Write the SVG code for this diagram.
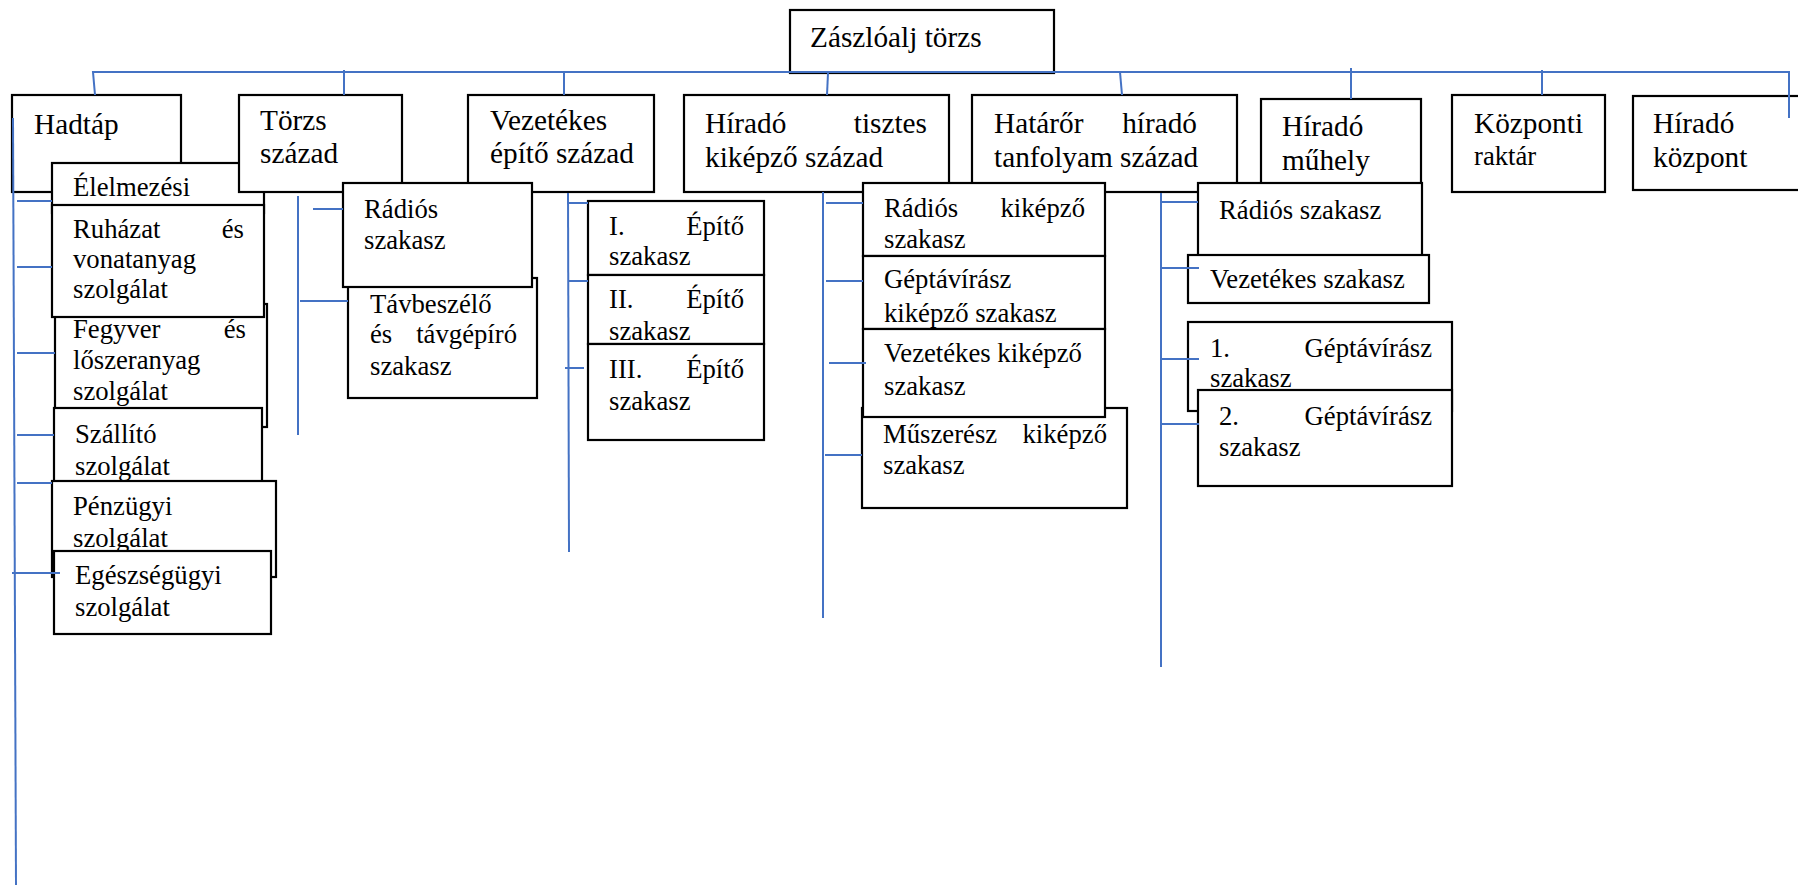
<svg xmlns="http://www.w3.org/2000/svg" width="1798" height="887" viewBox="0 0 1798 887">
<style>
.b{fill:#fff;stroke:#000;stroke-width:2.2}
.c{stroke:#4472C4;stroke-width:2;fill:none}
.s{font-size:26.7px}
.e{text-anchor:end}
</style>
<rect width="1798" height="887" fill="#fff"/>
<g font-family="'Liberation Serif', 'DejaVu Serif', serif" font-size="29.3" fill="#000">
<g id="n-zaszloalj"><rect class="b" x="790" y="10" width="264" height="63"/><text x="810" y="47">Zászlóalj törzs</text></g>

<g id="n-hadtap"><rect class="b" x="12" y="95" width="169" height="97"/><text x="34" y="134">Hadtáp</text></g>

<g id="n-elelmezesi"><rect class="b" x="52" y="163" width="212" height="50"/><text class="s" x="73" y="196">Élelmezési</text></g>

<g id="n-torzs"><rect class="b" x="239" y="95" width="163" height="97"/><text x="260" y="130">Törzs</text><text x="260" y="163">század</text></g>
<g id="n-vezetekes"><rect class="b" x="468" y="95" width="186" height="97"/><text x="490" y="130">Vezetékes</text><text x="490" y="163">építő század</text></g>
<g id="n-hiradotisztes"><rect class="b" x="684" y="95" width="265" height="97"/><text x="705" y="133">Híradó</text><text class="e" x="927" y="133">tisztes</text><text x="705" y="167">kiképző század</text></g>
<g id="n-hataror"><rect class="b" x="972" y="95" width="265" height="97"/><text x="994" y="133">Határőr</text><text class="e" x="1197" y="133">híradó</text><text x="994" y="167">tanfolyam század</text></g>
<g id="n-muhely"><rect class="b" x="1261" y="99" width="160" height="92"/><text x="1282" y="136">Híradó</text><text x="1282" y="170">műhely</text></g>
<g id="n-kozponti"><rect class="b" x="1452" y="95" width="153" height="97"/><text x="1474" y="133">Központi</text><text class="s" x="1474" y="165">raktár</text></g>
<g id="n-hiradokozpont"><rect class="b" x="1633" y="96" width="180" height="94"/><text x="1653" y="133">Híradó</text><text x="1653" y="167">központ</text></g>

<g id="n-fegyver"><rect class="b" x="55" y="304" width="212" height="123"/><text class="s" x="73" y="338">Fegyver</text><text class="s e" x="246" y="338">és</text><text class="s" x="73" y="369">lőszeranyag</text><text class="s" x="73" y="400">szolgálat</text></g>
<g id="n-ruhazat"><rect class="b" x="52" y="205" width="212" height="112"/><text class="s" x="73" y="238">Ruházat</text><text class="s e" x="244" y="238">és</text><text class="s" x="73" y="268">vonatanyag</text><text class="s" x="73" y="298">szolgálat</text></g>
<g id="n-szallito"><rect class="b" x="54" y="408" width="208" height="90"/><text class="s" x="75" y="443">Szállító</text><text class="s" x="75" y="475">szolgálat</text></g>
<g id="n-penzugyi"><rect class="b" x="52" y="481" width="224" height="96"/><text class="s" x="73" y="515">Pénzügyi</text><text class="s" x="73" y="547">szolgálat</text></g>
<g id="n-egeszsegugyi"><rect class="b" x="54" y="551" width="217" height="83"/><text class="s" x="75" y="584">Egészségügyi</text><text class="s" x="75" y="616">szolgálat</text></g>

<g id="n-tavbeszelo"><rect class="b" x="348" y="278" width="189" height="120"/><text class="s" x="370" y="313">Távbeszélő</text><text class="s" x="370" y="343">és</text><text class="s e" x="517" y="343">távgépíró</text><text class="s" x="370" y="375">szakasz</text></g>
<g id="n-radios1"><rect class="b" x="343" y="183" width="189" height="104"/><text class="s" x="364" y="218">Rádiós</text><text class="s" x="364" y="249">szakasz</text></g>

<g id="n-epito1"><rect class="b" x="588" y="201" width="176" height="74"/><text class="s" x="609" y="235">I.</text><text class="s e" x="744" y="235">Építő</text><text class="s" x="609" y="265">szakasz</text></g>
<g id="n-epito2"><rect class="b" x="588" y="275" width="176" height="69"/><text class="s" x="609" y="308">II.</text><text class="s e" x="744" y="308">Építő</text><text class="s" x="609" y="340">szakasz</text></g>
<g id="n-epito3"><rect class="b" x="588" y="344" width="176" height="96"/><text class="s" x="609" y="378">III.</text><text class="s e" x="744" y="378">Építő</text><text class="s" x="609" y="410">szakasz</text></g>

<g id="n-muszeresz"><rect class="b" x="862" y="408" width="265" height="100"/><text class="s" x="883" y="443">Műszerész</text><text class="s e" x="1107" y="443">kiképző</text><text class="s" x="883" y="474">szakasz</text></g>
<g id="n-radioskik"><rect class="b" x="863" y="183" width="242" height="73"/><text class="s" x="884" y="217">Rádiós</text><text class="s e" x="1085" y="217">kiképző</text><text class="s" x="884" y="248">szakasz</text></g>
<g id="n-geptavkik"><rect class="b" x="863" y="256" width="242" height="73"/><text class="s" x="884" y="288">Géptávírász</text><text class="s" x="884" y="322">kiképző szakasz</text></g>
<g id="n-vezkik"><rect class="b" x="863" y="329" width="242" height="88"/><text class="s" x="884" y="362">Vezetékes kiképző</text><text class="s" x="884" y="395">szakasz</text></g>

<g id="n-radios2"><rect class="b" x="1198" y="183" width="224" height="80"/><text class="s" x="1219" y="219">Rádiós szakasz</text></g>
<g id="n-vezsz"><rect class="b" x="1188" y="255" width="241" height="48"/><text class="s" x="1210" y="288">Vezetékes szakasz</text></g>
<g id="n-gept1"><rect class="b" x="1188" y="322" width="264" height="89"/><text class="s" x="1210" y="357">1.</text><text class="s e" x="1432" y="357">Géptávírász</text><text class="s" x="1210" y="387">szakasz</text></g>
<g id="n-gept2"><rect class="b" x="1198" y="390" width="254" height="96"/><text class="s" x="1219" y="425">2.</text><text class="s e" x="1432" y="425">Géptávírász</text><text class="s" x="1219" y="456">szakasz</text></g>
</g>
<g id="connectors" class="c">
<polyline points="95,95 93,72 1789,72 1789,118"/>
<line x1="344" y1="70" x2="344" y2="95"/>
<line x1="564" y1="72" x2="564" y2="95"/>
<line x1="828" y1="73" x2="827" y2="95"/>
<line x1="1120" y1="72" x2="1122" y2="95"/>
<line x1="1351" y1="68" x2="1351" y2="99"/>
<line x1="1542" y1="70" x2="1542" y2="95"/>
<line x1="13" y1="118" x2="16" y2="885"/>
<line x1="17" y1="201" x2="52" y2="201"/>
<line x1="17" y1="267" x2="52" y2="267"/>
<line x1="17" y1="353" x2="55" y2="353"/>
<line x1="17" y1="435" x2="54" y2="435"/>
<line x1="17" y1="483" x2="52" y2="483"/>
<line x1="12" y1="573" x2="60" y2="573"/>
<line x1="298" y1="196" x2="298" y2="435"/>
<line x1="313" y1="209" x2="343" y2="209"/>
<line x1="300" y1="301" x2="348" y2="301"/>
<line x1="568" y1="193" x2="569" y2="552"/>
<line x1="568" y1="203" x2="588" y2="203"/>
<line x1="568" y1="281" x2="588" y2="281"/>
<line x1="565" y1="368" x2="584" y2="368"/>
<line x1="823" y1="192" x2="823" y2="618"/>
<line x1="826" y1="203" x2="863" y2="203"/>
<line x1="826" y1="281" x2="863" y2="281"/>
<line x1="829" y1="363" x2="866" y2="363"/>
<line x1="825" y1="455" x2="862" y2="455"/>
<line x1="1161" y1="193" x2="1161" y2="667"/>
<line x1="1161" y1="202" x2="1198" y2="202"/>
<line x1="1161" y1="268" x2="1199" y2="268"/>
<line x1="1161" y1="359" x2="1199" y2="359"/>
<line x1="1161" y1="424" x2="1199" y2="424"/>
</g>
</svg>
